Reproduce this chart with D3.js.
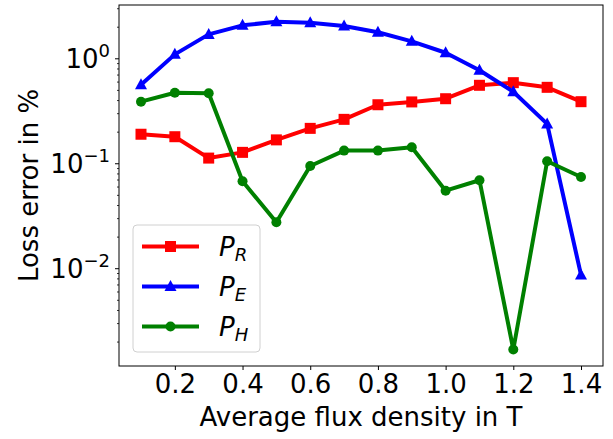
<!DOCTYPE html>
<html>
<head>
<meta charset="utf-8">
<script src="https://cdn.jsdelivr.net/npm/d3@7"></script>
<style>
  html, body { margin: 0; padding: 0; background: #fff; }
  svg { display: block; font-family: "DejaVu Sans", sans-serif; }
</style>
</head>
<body>
<svg id="chart" width="613" height="439"></svg>
<script>
// Average flux density (T)
const fluxDensity = [0.1, 0.2, 0.3, 0.4, 0.5, 0.6, 0.7, 0.8, 0.9, 1.0, 1.1, 1.2, 1.3, 1.4];

// Loss errors in %
const lossPR = [0.189, 0.179, 0.112, 0.127, 0.167, 0.215, 0.262, 0.361, 0.384, 0.412, 0.553, 0.586, 0.529, 0.386];
const lossPE = [0.56, 1.09, 1.69, 2.06, 2.23, 2.18, 2.03, 1.77, 1.45, 1.13, 0.77, 0.48, 0.237, 0.00863];
const lossPH = [0.386, 0.47, 0.464, 0.0674, 0.0274, 0.0942, 0.132, 0.132, 0.142, 0.0548, 0.0689, 0.00168, 0.1045, 0.074];

const xTicks = [0.2, 0.4, 0.6, 0.8, 1.0, 1.2, 1.4];
const yMajorTicks = [1, 0.1, 0.01];
const yMajorExponents = ["0", "\u22121", "\u22122"];

const series = [
  { name: "R", values: lossPR, color: "#ff0000", marker: "square" },
  { name: "E", values: lossPE, color: "#0000ff", marker: "triangle" },
  { name: "H", values: lossPH, color: "#008000", marker: "circle" }
];

const svg = d3.select("#chart");
const plot = { left: 119, top: 5, right: 603, bottom: 366 };

const x = d3.scaleLinear().domain([0.035, 1.465]).range([plot.left, plot.right]);
const y = d3.scaleLog().domain([0.00117, 3.22]).range([plot.bottom, plot.top]);

const fontSize = 26;

// x axis
const xAxis = svg.append("g")
  .attr("transform", `translate(0,${plot.bottom})`)
  .call(d3.axisBottom(x).tickValues(xTicks).tickFormat(d3.format(".1f")).tickSize(4).tickPadding(5));
xAxis.select(".domain").remove();
xAxis.selectAll(".tick line").attr("stroke", "#000").attr("stroke-width", 1);
xAxis.selectAll(".tick text").attr("font-size", fontSize).attr("fill", "#000")
  .attr("font-family", "DejaVu Sans");

// y axis minor ticks
const yMinor = [];
for (let e = -3; e <= 0; e++) {
  for (let m = 2; m <= 9; m++) {
    const v = m * Math.pow(10, e);
    if (v >= y.domain()[0] && v <= y.domain()[1]) yMinor.push(v);
  }
}
const yMinorAxis = svg.append("g")
  .attr("transform", `translate(${plot.left},0)`)
  .call(d3.axisLeft(y).tickValues(yMinor).tickFormat("").tickSize(2));
yMinorAxis.select(".domain").remove();
yMinorAxis.selectAll(".tick line").attr("stroke", "#000").attr("stroke-width", 0.8);

// y axis major ticks with power-of-ten labels
const yAxis = svg.append("g")
  .attr("transform", `translate(${plot.left},0)`)
  .call(d3.axisLeft(y).tickValues(yMajorTicks).tickFormat("").tickSize(4));
yAxis.select(".domain").remove();
yAxis.selectAll(".tick line").attr("stroke", "#000").attr("stroke-width", 1);
yAxis.selectAll(".tick").each(function(d, i) {
  const t = d3.select(this).append("text")
    .attr("x", -9)
    .attr("y", 0)
    .attr("dy", "0.36em")
    .attr("text-anchor", "end")
    .attr("fill", "#000")
    .attr("font-size", fontSize)
    .attr("font-family", "DejaVu Sans");
  t.append("tspan").text("10");
  t.append("tspan").attr("font-size", 18).attr("dy", "-0.62em").text(yMajorExponents[i]);
});

// axis frame
svg.append("rect")
  .attr("x", plot.left).attr("y", plot.top)
  .attr("width", plot.right - plot.left).attr("height", plot.bottom - plot.top)
  .attr("fill", "none").attr("stroke", "#000").attr("stroke-width", 1);

// axis labels
svg.append("text")
  .attr("x", (plot.left + plot.right) / 2)
  .attr("y", 426)
  .attr("text-anchor", "middle")
  .attr("font-size", fontSize)
  .attr("fill", "#000")
  .text("Average flux density in T");

svg.append("text")
  .attr("transform", `translate(38,${(plot.top + plot.bottom) / 2}) rotate(-90)`)
  .attr("text-anchor", "middle")
  .attr("font-size", fontSize)
  .attr("fill", "#000")
  .text("Loss error in %");

// marker drawing
function drawMarker(sel, type, color) {
  if (type === "square") {
    sel.append("rect").attr("x", -5.5).attr("y", -5.5).attr("width", 11).attr("height", 11).attr("fill", color);
  } else if (type === "triangle") {
    sel.append("path").attr("d", "M0,-6.5L6,4.5L-6,4.5Z").attr("fill", color);
  } else {
    sel.append("circle").attr("r", 5).attr("fill", color);
  }
}

const clip = svg.append("clipPath").attr("id", "plotclip")
  .append("rect").attr("x", plot.left).attr("y", plot.top)
  .attr("width", plot.right - plot.left).attr("height", plot.bottom - plot.top);

const line = d3.line().x((d, i) => x(fluxDensity[i])).y(d => y(d));

const marks = svg.append("g").attr("clip-path", "url(#plotclip)");
series.forEach(s => {
  marks.append("path")
    .datum(s.values)
    .attr("d", line)
    .attr("fill", "none")
    .attr("stroke", s.color)
    .attr("stroke-width", 4)
    .attr("stroke-linejoin", "round");
  marks.append("g").selectAll("g")
    .data(s.values)
    .join("g")
    .attr("transform", (d, i) => `translate(${x(fluxDensity[i])},${y(d)})`)
    .each(function() { drawMarker(d3.select(this), s.marker, s.color); });
});

// legend
const legend = svg.append("g");
legend.append("rect")
  .attr("x", 133).attr("y", 225).attr("width", 127).attr("height", 127)
  .attr("rx", 4)
  .attr("fill", "#fff").attr("fill-opacity", 0.8)
  .attr("stroke", "#d0d0d0").attr("stroke-width", 1);

series.forEach((s, i) => {
  const ly = 246.5 + i * 40;
  const g = legend.append("g");
  g.append("line")
    .attr("x1", 142).attr("x2", 199).attr("y1", ly).attr("y2", ly)
    .attr("stroke", s.color).attr("stroke-width", 4);
  const m = g.append("g").attr("transform", `translate(170.5,${ly})`);
  drawMarker(m, s.marker, s.color);
  const t = g.append("text")
    .attr("x", 219).attr("y", ly).attr("dy", "0.36em")
    .attr("font-size", fontSize).attr("font-style", "italic").attr("fill", "#000");
  t.append("tspan").text("P");
  t.append("tspan").attr("font-size", 18).attr("dy", "0.3em").text(s.name);
});
</script>
</body>
</html>
